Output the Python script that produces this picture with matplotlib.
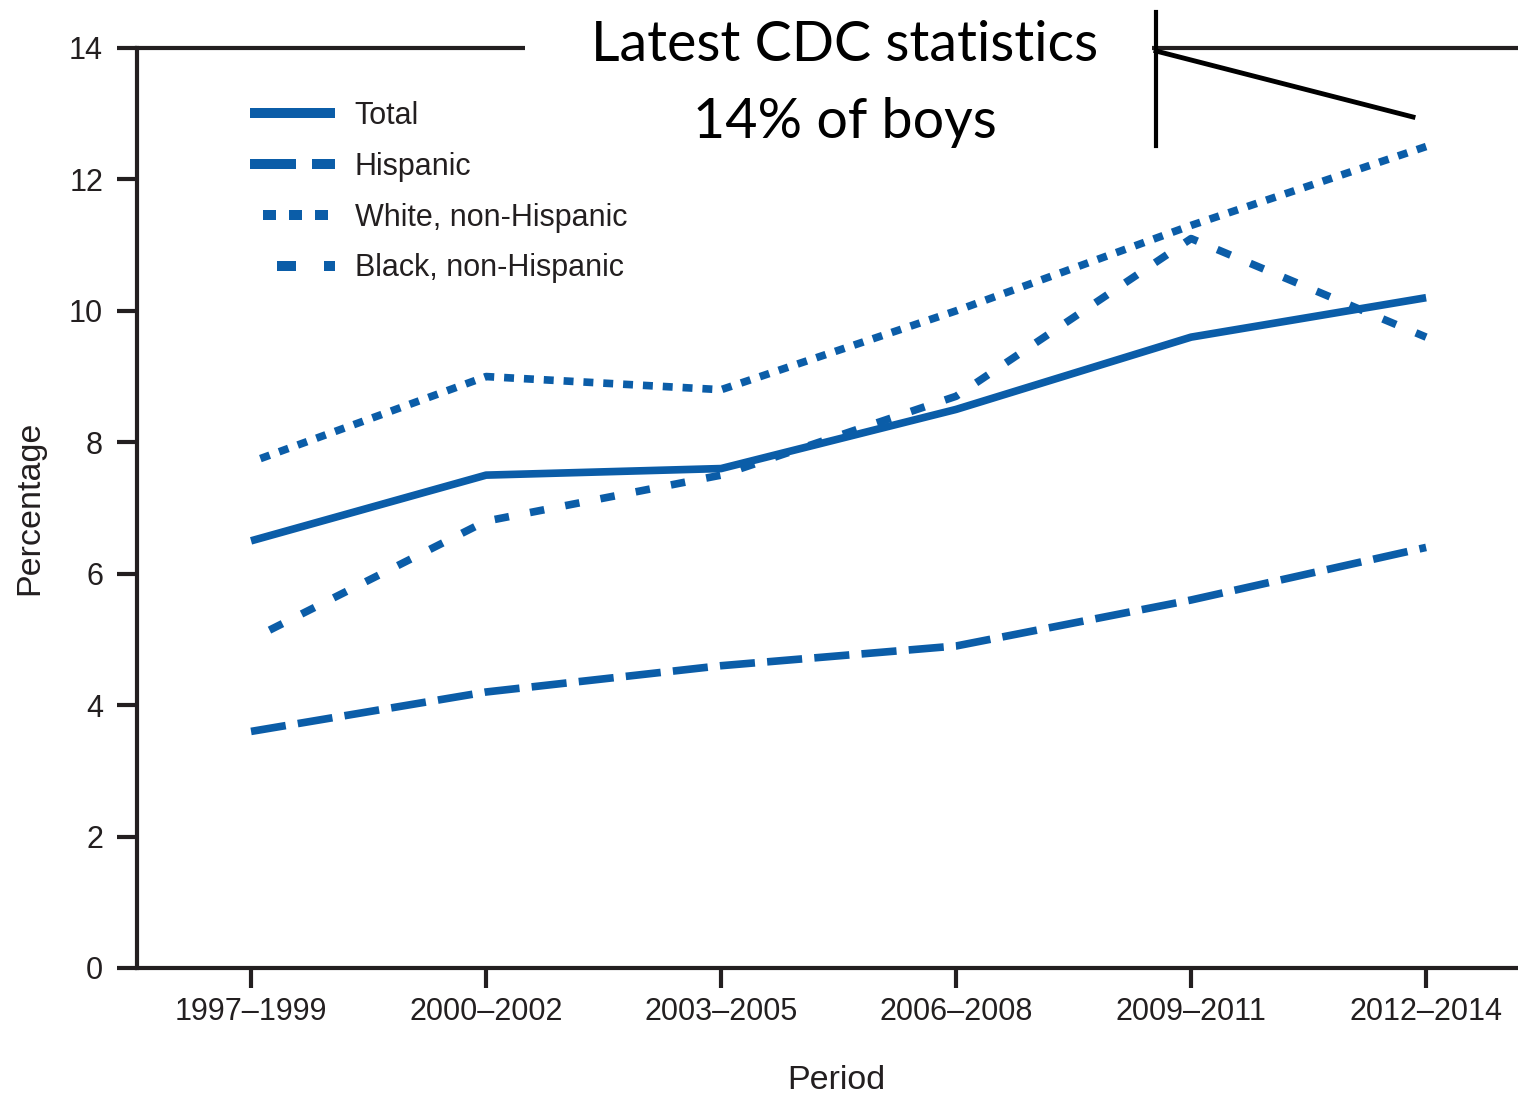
import matplotlib
matplotlib.use('Agg')
from matplotlib import pyplot as plt, patches, lines

periods = ['1997\u20131999', '2000\u20132002', '2003\u20132005',
           '2006\u20132008', '2009\u20132011', '2012\u20132014']
total = [6.5, 7.5, 7.6, 8.5, 9.6, 10.2]
hispanic = [3.6, 4.2, 4.6, 4.9, 5.6, 6.4]
white = [7.7, 9.0, 8.8, 10.0, 11.3, 12.5]
black = [5.0, 6.8, 7.5, 8.7, 11.1, 9.6]
y_ticks = [0, 2, 4, 6, 8, 10, 12, 14]

BLUE = '#0b5da8'
INK = '#231f20'


def plot_trend():
    plt.rcParams['font.family'] = ['Liberation Sans', 'DejaVu Sans']
    fig = plt.figure(figsize=(15.18, 11.03), dpi=100)
    ax = fig.add_axes([0.0903, 0.1224, 0.9097, 0.8341])

    x = list(range(len(periods)))
    lw = 5.5
    ax.plot(x, total, color=BLUE, lw=lw, label='Total', solid_capstyle='butt')
    ax.plot(x, hispanic, color=BLUE, lw=lw, label='Hispanic',
            linestyle=(0, (4.6, 1.6)))
    ax.plot(x, white, color=BLUE, lw=lw, label='White, non-Hispanic',
            linestyle=(1.3, (1.3, 1.3)))
    ax.plot(x, black, color=BLUE, lw=lw, label='Black, non-Hispanic',
            linestyle=(2.0, (1.9, 2.8)))

    ax.set_xlim(-0.485, 5.391)
    ax.set_ylim(0, 14)
    ax.set_xticks(x)
    ax.set_xticklabels(periods)
    ax.set_yticks(y_ticks)

    for side in ['left', 'bottom', 'top']:
        ax.spines[side].set_linewidth(3)
        ax.spines[side].set_color(INK)
    ax.spines['right'].set_visible(False)
    ax.tick_params(axis='both', length=14.5, width=3, color=INK,
                   labelsize=22, labelcolor=INK)
    ax.tick_params(axis='y', pad=10)
    ax.tick_params(axis='x', pad=6.5)

    ax.set_xlabel('Period', fontsize=24.5, color=INK)
    ax.set_ylabel('Percentage', fontsize=24.5, color=INK)
    ax.xaxis.set_label_coords(0.506, -0.1054)
    ax.yaxis.set_label_coords(-0.0666, 0.5)

    leg = ax.legend(loc='upper left', bbox_to_anchor=(250 / 1518, 1 - 101 / 1103),
                    bbox_transform=fig.transFigure, frameon=False, fontsize=22,
                    handlelength=2.78, handletextpad=0.65, labelspacing=0.68,
                    borderpad=0, borderaxespad=0)
    for t in leg.get_texts():
        t.set_color(INK)
    for h in leg.get_lines():
        h.set_linewidth(7.2)

    # 上方的注释: 白色块挡住顶部边框
    fig.add_artist(patches.Rectangle((525 / 1518, 1 - 58 / 1103), (1152 - 525) / 1518,
                                     20 / 1103, transform=fig.transFigure,
                                     facecolor='white', edgecolor='none', zorder=5))
    fig.text(845 / 1518, 1 - 61 / 1103, 'Latest CDC statistics', family=['Lato', 'DejaVu Sans'],
             fontsize=40, ha='center', va='baseline', color='black', zorder=6)
    fig.text(845 / 1518, 1 - 138 / 1103, '14% of boys', family=['Lato', 'DejaVu Sans'],
             fontsize=40, ha='center', va='baseline', color='black', zorder=6)
    fig.add_artist(lines.Line2D([1156 / 1518, 1156 / 1518], [1 - 12 / 1103, 1 - 146 / 1103],
                                transform=fig.transFigure, color='black', lw=3, zorder=6))
    fig.add_artist(lines.Line2D([1156 / 1518, 1413 / 1518], [1 - 51 / 1103, 1 - 117 / 1103],
                                transform=fig.transFigure, color='black', lw=3.5, zorder=6))

    fig.savefig('out.png', dpi=100, facecolor='white')


if __name__ == '__main__':
    plot_trend()
